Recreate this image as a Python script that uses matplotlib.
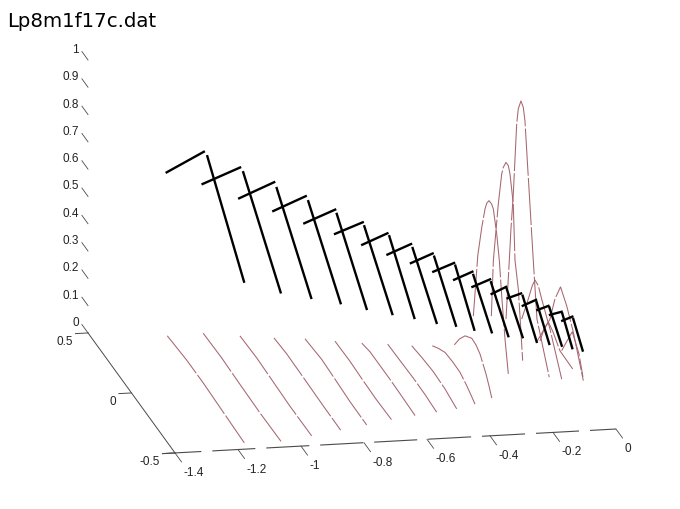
import matplotlib
matplotlib.use('Agg')
from matplotlib import pyplot as plt
import numpy as np

plt.rcParams['lines.scale_dashes'] = False

# slice positions along x, one red curve and one black bracket for each
slice_x = [-1.166, -1.050, -0.943, -0.843, -0.752, -0.665, -0.584, -0.510, -0.442,
           -0.375, -0.311, -0.251, -0.193, -0.149, -0.108, -0.070, -0.035, -0.003]

# red curves, y and z along each slice
curve_y = [
    [0.436, 0.213, 0.022, -0.208, -0.449],
    [0.443, 0.231, 0.052, -0.209, -0.451],
    [0.408, 0.216, 0.044, -0.167, -0.416],
    [0.379, 0.233, 0.003, -0.187, -0.387],
    [0.352, 0.160, -0.013, -0.166, -0.357],
    [0.322, 0.152, 0.015, -0.157, -0.330],
    [0.308, 0.213, -0.017, -0.132, -0.305],
    [0.278, 0.137, -0.016, -0.151, -0.285],
    [0.248, 0.133, 0.003, -0.134, -0.269],
    [0.254, 0.185, 0.108, 0.020, -0.064, -0.141, -0.191, -0.237],
    [0.232, 0.175, 0.109, 0.032, -0.017, -0.063, -0.132, -0.167, -0.198],
    [0.231, 0.180, 0.134, 0.097, 0.077, 0.051, 0.020, 0.001, -0.038, -0.068, -0.095, -0.133, -0.171],
    [0.234, 0.211, 0.154, 0.115, 0.097, 0.066, 0.039, 0.020, -0.018, -0.038, -0.076, -0.101, -0.126],
    [0.225, 0.187, 0.168, 0.141, 0.102, 0.084, 0.053, 0.026, 0.007, -0.020, -0.059, -0.089, -0.131, -0.272],
    [0.193, 0.117, 0.071, 0.040, 0.002, -0.037, -0.132, -0.267],
    [0.120, 0.074, 0.024, -0.030, -0.110, -0.256],
    [0.285, 0.132, 0.075, 0.011, -0.060, -0.136, -0.251],
    [0.114, 0.053, -0.008, -0.051, -0.085, -0.131],
]
curve_z = [
    [0.003, 0.012, 0.012, 0.006, 0.000],
    [0.002, 0.005, 0.001, -0.003, -0.001],
    [0.001, 0.005, 0.001, -0.004, -0.003],
    [0.000, 0.006, 0.003, 0.000, -0.001],
    [0.003, 0.012, 0.006, 0.000, -0.001],
    [0.002, 0.004, 0.000, -0.003, 0.000],
    [-0.004, 0.006, 0.006, 0.004, 0.000],
    [0.001, 0.003, 0.006, 0.005, -0.001],
    [0.004, 0.012, 0.018, 0.014, 0.000],
    [-0.003, 0.018, 0.037, 0.041, 0.040, 0.025, 0.012, -0.001],
    [0.006, 0.052, 0.093, 0.118, 0.115, 0.102, 0.059, 0.030, 0.000],
    [0.108, 0.352, 0.476, 0.559, 0.589, 0.610, 0.611, 0.601, 0.527, 0.442, 0.326, 0.184, 0.073],
    [0.103, 0.316, 0.549, 0.676, 0.708, 0.740, 0.740, 0.718, 0.625, 0.426, 0.338, 0.221, 0.098],
    [0.093, 0.324, 0.448, 0.588, 0.862, 0.925, 0.968, 0.956, 0.916, 0.781, 0.591, 0.445, 0.250, 0.099],
    [0.105, 0.212, 0.281, 0.315, 0.311, 0.279, 0.211, 0.087],
    [0.054, 0.118, 0.166, 0.153, 0.119, 0.117],
    [-0.024, 0.127, 0.226, 0.298, 0.260, 0.197, 0.070],
    [0.017, 0.079, 0.140, 0.114, 0.093, 0.029],
]

# black long strokes, y and z at both ends
long_y_top = [-0.024, -0.017, -0.014, -0.015, -0.013, -0.015, -0.009, -0.009, -0.011,
              -0.011, 0.014, 0.028, 0.057, 0.033, 0.021, 0.013, -0.009, -0.020]
long_z_top = [0.863, 0.794, 0.728, 0.674, 0.621, 0.571, 0.527, 0.479, 0.444,
              0.407, 0.358, 0.321, 0.280, 0.263, 0.242, 0.225, 0.210, 0.192]
long_y_bot = [-0.446, -0.447, -0.411, -0.387, -0.357, -0.337, -0.297, -0.285, -0.261,
              -0.229, -0.198, -0.171, -0.126, -0.128, -0.124, -0.130, -0.124, -0.128]
long_z_bot = [0.589, 0.543, 0.500, 0.464, 0.424, 0.391, 0.354, 0.326, 0.301,
              0.268, 0.241, 0.211, 0.184, 0.165, 0.153, 0.147, 0.133, 0.124]

# black short strokes, x and z at both ends (y is that of the long stroke top)
short_x0 = [-1.295, -1.179, -1.062, -0.954, -0.855, -0.758, -0.670, -0.590, -0.516,
            -0.445, -0.372, -0.310, -0.241, -0.197, -0.152, -0.108, -0.074, -0.038]
short_x1 = [-1.177, -1.060, -0.951, -0.851, -0.757, -0.670, -0.590, -0.515, -0.447,
            -0.379, -0.314, -0.254, -0.195, -0.154, -0.110, -0.073, -0.037, -0.006]
short_z0 = [0.812, 0.759, 0.698, 0.645, 0.593, 0.549, 0.501, 0.460, 0.425,
            0.389, 0.344, 0.308, 0.265, 0.257, 0.232, 0.217, 0.207, 0.188]
short_z1 = [0.880, 0.812, 0.750, 0.693, 0.637, 0.586, 0.538, 0.494, 0.456,
            0.417, 0.370, 0.332, 0.288, 0.272, 0.251, 0.230, 0.216, 0.201]

x_ticks = [-1.4, -1.2, -1, -0.8, -0.6, -0.4, -0.2, 0]
x_labels = ['-1.4', '-1.2', '-1', '-0.8', '-0.6', '-0.4', '-0.2', '0']
y_ticks = [0.5, 0, -0.5]
y_labels = ['0.5', '0', '-0.5']
z_ticks = [0, 0.1, 0.2, 0.3, 0.4, 0.5, 0.6, 0.7, 0.8, 0.9, 1]
z_labels = ['0', '0.1', '0.2', '0.3', '0.4', '0.5', '0.6', '0.7', '0.8', '0.9', '1']

RED = '#a5666f'
AXIS = '#4a4a4a'
TICK_FONT = 'Liberation Sans'


def project(x, y, z):
    # fixed view of the 3d box, result is in figure pixels
    x, y, z = np.asarray(x, float), np.asarray(y, float), np.asarray(z, float)
    u = y + 0.5
    return 616 + 315 * x - 87 * u, 430 - 17.1 * x - 120 * u - 273 * z


def line3(x, y, z, **kw):
    sx, sy = project(x, y, z)
    ax.plot(sx, sy, **kw)


fig = plt.figure(figsize=(6.8, 5.1), dpi=100)
ax = fig.add_axes([0, 0, 1, 1])
ax.set_xlim(0, 680)
ax.set_ylim(510, 0)
ax.axis('off')

# axes of the box, px -> pt is 0.72
line3([-1.44, 0], [-0.5, -0.5], [0, 0], color=AXIS, lw=0.8,
      linestyle=(2.9, (31, 7.9)))
line3([-1.4, -1.4], [0.5, -0.5], [0, 0], color=AXIS, lw=0.7)

for t, lab in zip(x_ticks, x_labels):
    line3([t, t], [-0.5, -0.575], [0, 0], color=AXIS, lw=0.6)
    sx, sy = project(t, -0.5, 0)
    ax.text(sx + 8.5, sy + 19, lab, ha='left', va='center', fontsize=8.5,
            family=TICK_FONT, color='#222222')

for t, lab in zip(y_ticks, y_labels):
    line3([-1.4, -1.44], [t, t], [0, 0], color=AXIS, lw=0.7)
    sx, sy = project(-1.4, t, 0)
    ax.text(sx - 15, sy + 8, lab, ha='right', va='center', fontsize=8.5,
            family=TICK_FONT, color='#222222')

for t, lab in zip(z_ticks, z_labels):
    line3([-1.4, -1.4], [0.5, 0.57], [t, t], color=AXIS, lw=0.6)
    sx, sy = project(-1.4, 0.5, t)
    ax.text(sx - 9, sy - 11, lab, ha='right', va='center', fontsize=8.5,
            family=TICK_FONT, color='#222222')

# red curves first, black goes over them
for i in range(len(slice_x)):
    line3([slice_x[i]] * len(curve_y[i]), curve_y[i], curve_z[i], color=RED, lw=0.75,
          linestyle=(0, (34, 1.6)))

for i in range(len(slice_x)):
    line3([slice_x[i], slice_x[i]], [long_y_top[i], long_y_bot[i]],
          [long_z_top[i], long_z_bot[i]], color='black', lw=1.7)
    line3([short_x0[i], short_x1[i]], [long_y_top[i], long_y_top[i]],
          [short_z0[i], short_z1[i]], color='black', lw=1.7)

ax.text(7, 27, 'Lp8m1f17c.dat', ha='left', va='baseline', fontsize=14.2,
        family='DejaVu Sans', color='black')

fig.savefig('out.png', dpi=100)
